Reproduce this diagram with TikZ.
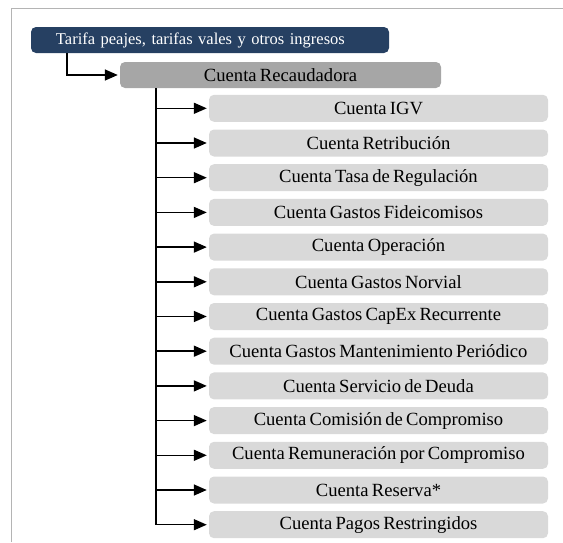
\documentclass[tikz,border=0pt]{standalone}
\usepackage{fontspec}
\setmainfont[WordSpace={0.7,1,1}]{Liberation Serif}
\usetikzlibrary{arrows.meta}
\usetikzlibrary{positioning}
\definecolor{azulfondo}{RGB}{38,64,98}
\definecolor{grismedio}{RGB}{166,166,166}
\definecolor{grisclaro}{RGB}{217,217,217}
\definecolor{grismarco}{RGB}{180,180,180}
\tikzstyle{origen} = [fill=azulfondo, text=white, rounded corners=5pt,
    minimum height=26pt, text width=308pt, align=left,
    inner xsep=25pt, inner ysep=0pt, font=\fontsize{16.5}{19}\selectfont]
\tikzstyle{recauda} = [fill=grismedio, rounded corners=5pt,
    minimum height=26pt, minimum width=321pt, inner sep=0pt]
\tikzstyle{cuenta} = [fill=grisclaro, rounded corners=5pt,
    minimum height=27pt, minimum width=339pt, inner sep=0pt]
\tikzstyle{flecha} = [->, line width=1.5pt, shorten >=2pt]

\begin{document}
\begin{tikzpicture}[x=1pt, y=1pt, node distance=7.3pt,
    >={Triangle[length=13pt,width=11pt]},
    font=\fontsize{18.6}{21}\selectfont]
      \useasboundingbox (0,0) rectangle (563,-542);
      \draw [grismarco, line width=1pt] (11,-542) -- (11,-8) -- (563,-8);

      \node [origen] (origen) at (210,-40) {Tarifa peajes, tarifas vales y otros ingresos};
      \node [recauda] (recaud) at (280.5,-75) {Cuenta Recaudadora};

      \node [cuenta] (igv) at (378.5,-108.3) {Cuenta IGV};
      \node [cuenta, below=of igv] (retrib) {Cuenta Retribución};
      \node [cuenta, below=of retrib] (tasa) {Cuenta Tasa de Regulación};
      \node [cuenta, below=of tasa] (fideic) {Cuenta Gastos Fideicomisos};
      \node [cuenta, below=of fideic] (operac) {Cuenta Operación};
      \node [cuenta, below=of operac] (norvial) {Cuenta Gastos Norvial};
      \node [cuenta, below=of norvial] (capex) {Cuenta Gastos CapEx Recurrente};
      \node [cuenta, below=of capex] (manten) {Cuenta Gastos Mantenimiento Periódico};
      \node [cuenta, below=of manten] (deuda) {Cuenta Servicio de Deuda};
      \node [cuenta, below=of deuda] (comision) {Cuenta Comisión de Compromiso};
      \node [cuenta, below=of comision] (remun) {Cuenta Remuneración por Compromiso};
      \node [cuenta, below=of remun] (reserva) {Cuenta Reserva*};
      \node [cuenta, below=of reserva] (pagos) {Cuenta Pagos Restringidos};

      \coordinate (bajada) at ([xshift=36pt]origen.south west);
      \coordinate (tronco) at ([xshift=36pt]recaud.south west);

      \draw [flecha] (bajada) |- (recaud.west);
      \draw [flecha] (tronco) |- (pagos.west);
      \draw [flecha] (tronco |- igv.west) -- (igv.west);
      \draw [flecha] (tronco |- retrib.west) -- (retrib.west);
      \draw [flecha] (tronco |- tasa.west) -- (tasa.west);
      \draw [flecha] (tronco |- fideic.west) -- (fideic.west);
      \draw [flecha] (tronco |- operac.west) -- (operac.west);
      \draw [flecha] (tronco |- norvial.west) -- (norvial.west);
      \draw [flecha] (tronco |- capex.west) -- (capex.west);
      \draw [flecha] (tronco |- manten.west) -- (manten.west);
      \draw [flecha] (tronco |- deuda.west) -- (deuda.west);
      \draw [flecha] (tronco |- comision.west) -- (comision.west);
      \draw [flecha] (tronco |- remun.west) -- (remun.west);
      \draw [flecha] (tronco |- reserva.west) -- (reserva.west);
    \end{tikzpicture}
\end{document}
